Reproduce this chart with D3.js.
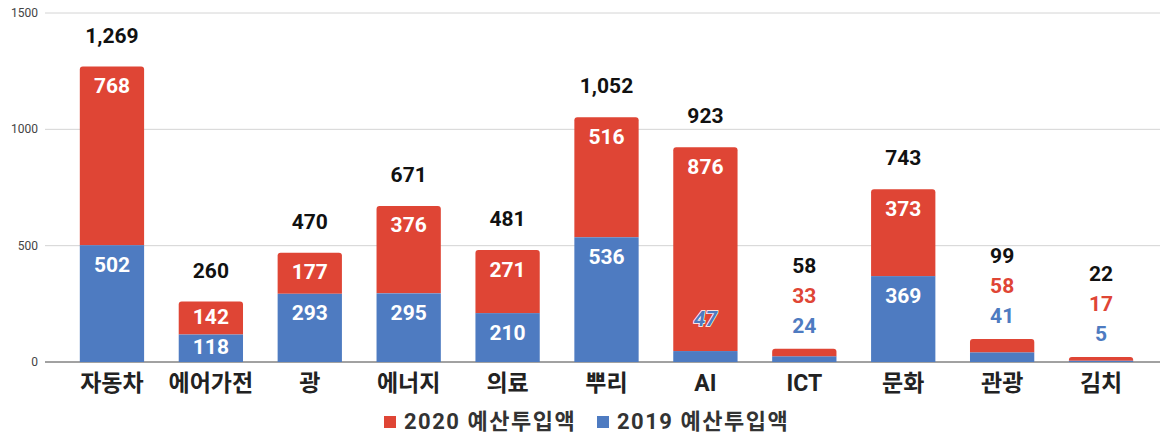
<!DOCTYPE html>
<html>
<head>
<meta charset="utf-8">
<script src="https://cdn.jsdelivr.net/npm/d3@7"></script>
<style>
  body { margin: 0; background: #fff; }
  text { font-family: Roboto, "Noto Sans CJK KR", sans-serif; }
</style>
</head>
<body>
<script>
var width = 1163,
    height = 436;

// data
var categories = ["자동차", "에어가전", "광", "에너지", "의료", "뿌리", "AI", "ICT", "문화", "관광", "김치"];
var budget2019 = [502, 118, 293, 295, 210, 536, 47, 24, 369, 41, 5];
var budget2020 = [768, 142, 177, 376, 271, 516, 876, 33, 373, 58, 17];
var totals = [1269, 260, 470, 671, 481, 1052, 923, 58, 743, 99, 22];
var yTicks = [0, 500, 1000, 1500];
var seriesNames = ["2020 예산투입액", "2019 예산투입액"];

var red = "#df4535", blue = "#4e7bc1";

var svg = d3.select("body").append("svg")
    .attr("width", width)
    .attr("height", height);

var x = d3.scaleBand()
    .domain(categories)
    .range([62.5, 1150.5])
    .paddingInner(0.35)
    .paddingOuter(0.175);

var y = d3.scaleLinear()
    .domain([0, 1500])
    .range([362, 13]);

// gridlines + tick labels
var grid = svg.append("g");
grid.selectAll("line")
  .data(yTicks)
  .join("line")
    .attr("x1", 45).attr("x2", 1160)
    .attr("y1", d => y(d)).attr("y2", d => y(d))
    .attr("stroke", d => d === 0 ? "#444" : "#d4d4d4")
    .attr("stroke-width", 1);

grid.selectAll("text")
  .data(yTicks)
  .join("text")
    .attr("x", 38)
    .attr("y", d => y(d) + 4)
    .attr("text-anchor", "end")
    .attr("font-size", 12)
    .attr("fill", "#444")
    .text(d => d);

var data = categories.map((c, i) => ({
  cat: c, v19: budget2019[i], v20: budget2020[i], total: totals[i]
}));

// rounded top bar path
function topRounded(x0, y0, w, h, r) {
  r = Math.min(r, h);
  return "M" + x0 + "," + (y0 + h) +
    "V" + (y0 + r) + "Q" + x0 + "," + y0 + " " + (x0 + r) + "," + y0 +
    "H" + (x0 + w - r) + "Q" + (x0 + w) + "," + y0 + " " + (x0 + w) + "," + (y0 + r) +
    "V" + (y0 + h) + "Z";
}

var bars = svg.append("g");
bars.selectAll("path.red")
  .data(data)
  .join("path")
    .attr("class", "red")
    .attr("fill", red)
    .attr("d", d => topRounded(x(d.cat), y(d.v19 + d.v20), x.bandwidth(), y(d.v19) - y(d.v19 + d.v20), 3));

bars.selectAll("rect.blue")
  .data(data)
  .join("rect")
    .attr("class", "blue")
    .attr("fill", blue)
    .attr("x", d => x(d.cat))
    .attr("width", x.bandwidth())
    .attr("y", d => y(d.v19))
    .attr("height", d => y(0) - y(d.v19));

var labels = svg.append("g")
    .attr("font-size", 21)
    .attr("font-weight", "bold")
    .attr("text-anchor", "middle");

// baseline for a label inside a segment: near top, centred when segment is short
function inside(top, bottom) {
  return Math.min(top + 26.5, (top + bottom) / 2 + 6);
}

data.forEach(d => {
  var cx = x(d.cat) + x.bandwidth() / 2;
  var top = y(d.v19 + d.v20);
  var small = (y(0) - top) < 40;
  if (small) {
    // labels stacked above a thin bar
    labels.append("text").attr("x", cx).attr("y", top - 16).attr("fill", blue).text(d.v19);
    labels.append("text").attr("x", cx).attr("y", top - 46).attr("fill", red).text(d.v20);
    labels.append("text").attr("x", cx).attr("y", top - 76).attr("fill", "#111").text(d.total);
    return;
  }
  labels.append("text").attr("x", cx).attr("y", top - 24).attr("fill", "#111")
      .text(d3.format(",")(d.total));
  labels.append("text").attr("x", cx).attr("y", inside(top, y(d.v19))).attr("fill", "#fff").text(d.v20);
  if (y(0) - y(d.v19) > 20) {
    labels.append("text").attr("x", cx).attr("y", inside(y(d.v19), y(0))).attr("fill", "#fff").text(d.v19);
  } else {
    labels.append("text").attr("x", cx).attr("y", y(d.v19) - 25)
        .attr("fill", blue)
        .attr("stroke", "#fff").attr("stroke-width", 1.5)
        .attr("paint-order", "stroke")
        .attr("font-style", "italic")
        .text(d.v19);
  }
});

// category labels
svg.append("g")
  .selectAll("text")
  .data(categories)
  .join("text")
    .attr("x", d => x(d) + x.bandwidth() / 2)
    .attr("y", 391)
    .attr("text-anchor", "middle")
    .attr("font-size", 23)
    .attr("font-weight", "bold")
    .attr("fill", "#222")
    .text(d => d);

// legend
var legend = svg.append("g").attr("font-size", 22).attr("font-weight", "bold")
    .attr("fill", "#333").attr("letter-spacing", 1.5);
var legendItems = [{name: seriesNames[0], color: red, x: 384}, {name: seriesNames[1], color: blue, x: 597}];
legendItems.forEach(it => {
  legend.append("rect").attr("x", it.x).attr("y", 416).attr("width", 12).attr("height", 12).attr("fill", it.color);
  legend.append("text").attr("x", it.x + 20).attr("y", 429).text(it.name);
});
</script>
</body>
</html>
